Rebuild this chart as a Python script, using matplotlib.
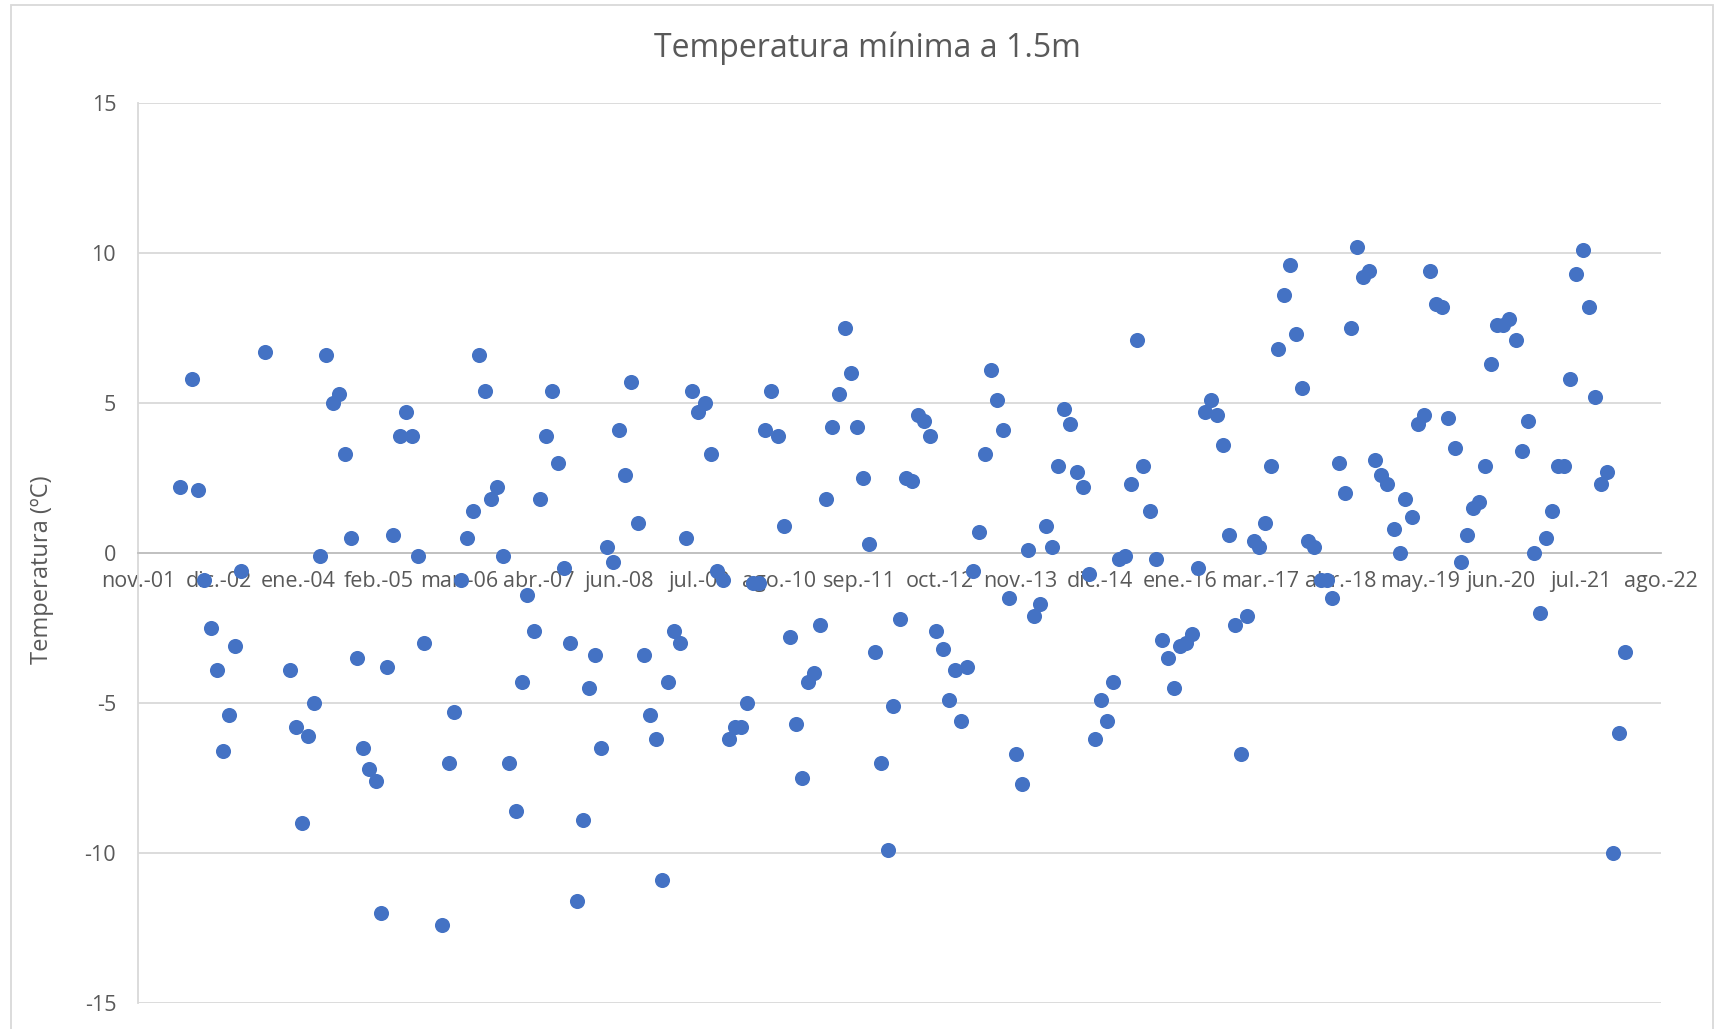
import numpy as np
import pandas as pd
import matplotlib
matplotlib.use("Agg")
import matplotlib.pyplot as plt
from matplotlib.patches import Rectangle

# temperatura minima mensual (ºC), desde jun-2002; None = mes sin dato
inicio = "2002-06"
temp_min = [
    2.2, None, 5.8, 2.1, -0.9, -2.5, -3.9,                               # 2002 (jun-dic)
    -6.6, -5.4, -3.1, -0.6, None, None, None, 6.7, None, None, None, -3.9,  # 2003
    -5.8, -9.0, -6.1, -5.0, -0.1, 6.6, 5.0, 5.3, 3.3, 0.5, -3.5, -6.5,    # 2004
    -7.2, -7.6, -12.0, -3.8, 0.6, 3.9, 4.7, 3.9, -0.1, -3.0, None, None,  # 2005
    -12.4, -7.0, -5.3, -0.9, 0.5, 1.4, 6.6, 5.4, 1.8, 2.2, -0.1, -7.0,    # 2006
    -8.6, -4.3, -1.4, -2.6, 1.8, 3.9, 5.4, 3.0, -0.5, -3.0, -11.6, -8.9,  # 2007
    -4.5, -3.4, -6.5, 0.2, -0.3, 4.1, 2.6, 5.7, 1.0, -3.4, -5.4, -6.2,    # 2008
    -10.9, -4.3, -2.6, -3.0, 0.5, 5.4, 4.7, 5.0, 3.3, -0.6, -0.9, -6.2,   # 2009
    -5.8, -5.8, -5.0, -1.0, -1.0, 4.1, 5.4, 3.9, 0.9, -2.8, -5.7, -7.5,   # 2010
    -4.3, -4.0, -2.4, 1.8, 4.2, 5.3, 7.5, 6.0, 4.2, 2.5, 0.3, -3.3,       # 2011
    -7.0, -9.9, -5.1, -2.2, 2.5, 2.4, 4.6, 4.4, 3.9, -2.6, -3.2, -4.9,    # 2012
    -3.9, -5.6, -3.8, -0.6, 0.7, 3.3, 6.1, 5.1, 4.1, -1.5, -6.7, -7.7,    # 2013
    0.1, -2.1, -1.7, 0.9, 0.2, 2.9, 4.8, 4.3, 2.7, 2.2, -0.7, -6.2,       # 2014
    -4.9, -5.6, -4.3, -0.2, -0.1, 2.3, 7.1, 2.9, 1.4, -0.2, -2.9, -3.5,   # 2015
    -4.5, -3.1, -3.0, -2.7, -0.5, 4.7, 5.1, 4.6, 3.6, 0.6, -2.4, -6.7,    # 2016
    -2.1, 0.4, 0.2, 1.0, 2.9, 6.8, 8.6, 9.6, 7.3, 5.5, 0.4, 0.2,          # 2017
    -0.9, -0.9, -1.5, 3.0, 2.0, 7.5, 10.2, 9.2, 9.4, 3.1, 2.6, 2.3,       # 2018
    0.8, 0.0, 1.8, 1.2, 4.3, 4.6, 9.4, 8.3, 8.2, 4.5, 3.5, -0.3,          # 2019
    0.6, 1.5, 1.7, 2.9, 6.3, 7.6, 7.6, 7.8, 7.1, 3.4, 4.4, 0.0,           # 2020
    -2.0, 0.5, 1.4, 2.9, 2.9, 5.8, 9.3, 10.1, 8.2, 5.2, 2.3, 2.7,         # 2021
    -10.0, -6.0, -3.3,                                                   # 2022 (ene-mar)
]

meses_es = ["ene.", "feb.", "mar.", "abr.", "may.", "jun.",
            "jul.", "ago.", "sep.", "oct.", "nov.", "dic."]
eje_inicio = "2001-11-05"   # eje de fechas tipo excel, salto de 400 dias
eje_paso = 400
eje_n = 20

fechas = pd.date_range(inicio, periods=len(temp_min), freq="MS")
valores = np.array([np.nan if v is None else v for v in temp_min])
ok = ~np.isnan(valores)

ticks = pd.to_datetime(eje_inicio) + pd.to_timedelta(np.arange(eje_n) * eje_paso, unit="D")
tick_lbl = [f"{meses_es[t.month - 1]}-{t.strftime('%y')}" for t in ticks]

plt.rcParams["font.family"] = ["Open Sans", "DejaVu Sans"]
plt.rcParams["axes.unicode_minus"] = False
txt = "#595959"
gris = "#d9d9d9"

fig = plt.figure(figsize=(17.19, 10.29), dpi=100)
ax = fig.add_axes([0.0805, 0.0253, 0.9662 - 0.0805, 0.8999 - 0.0253])

ax.scatter(fechas[ok], valores[ok], s=118, color="#4472c4", zorder=3, linewidths=0)

ax.set_ylim(-15, 15)
ax.set_yticks(np.arange(-15, 16, 5))
ax.set_xlim(ticks[0], ticks[-1])
ax.set_xticks(ticks)
ax.set_xticklabels(tick_lbl)

ax.grid(axis="y", color=gris, linewidth=1.3)
ax.set_axisbelow(True)
for s in ["top", "right"]:
    ax.spines[s].set_visible(False)
ax.spines["bottom"].set_position(("data", 0))
ax.spines["bottom"].set_color("#bfbfbf")
ax.spines["bottom"].set_linewidth(1.3)
ax.spines["left"].set_color(gris)
ax.spines["left"].set_linewidth(1.3)
ax.tick_params(axis="both", length=0, colors=txt, labelsize=15.5)
ax.tick_params(axis="x", pad=13)
ax.tick_params(axis="y", pad=16)

fig.text(0.5046, 0.953, "Temperatura mínima a 1.5m", ha="center", va="center",
         fontsize=23, color=txt)
fig.text(0.0243, 0.446, "Temperatura (ºC)", ha="center", va="center",
         rotation=90, fontsize=17, color=txt)

fig.patches.append(Rectangle((0.0064, -0.05), 0.9904, 1.0447, transform=fig.transFigure,
                             fill=False, edgecolor=gris, linewidth=1.3))

fig.savefig("out.png", dpi=100, facecolor="white")
